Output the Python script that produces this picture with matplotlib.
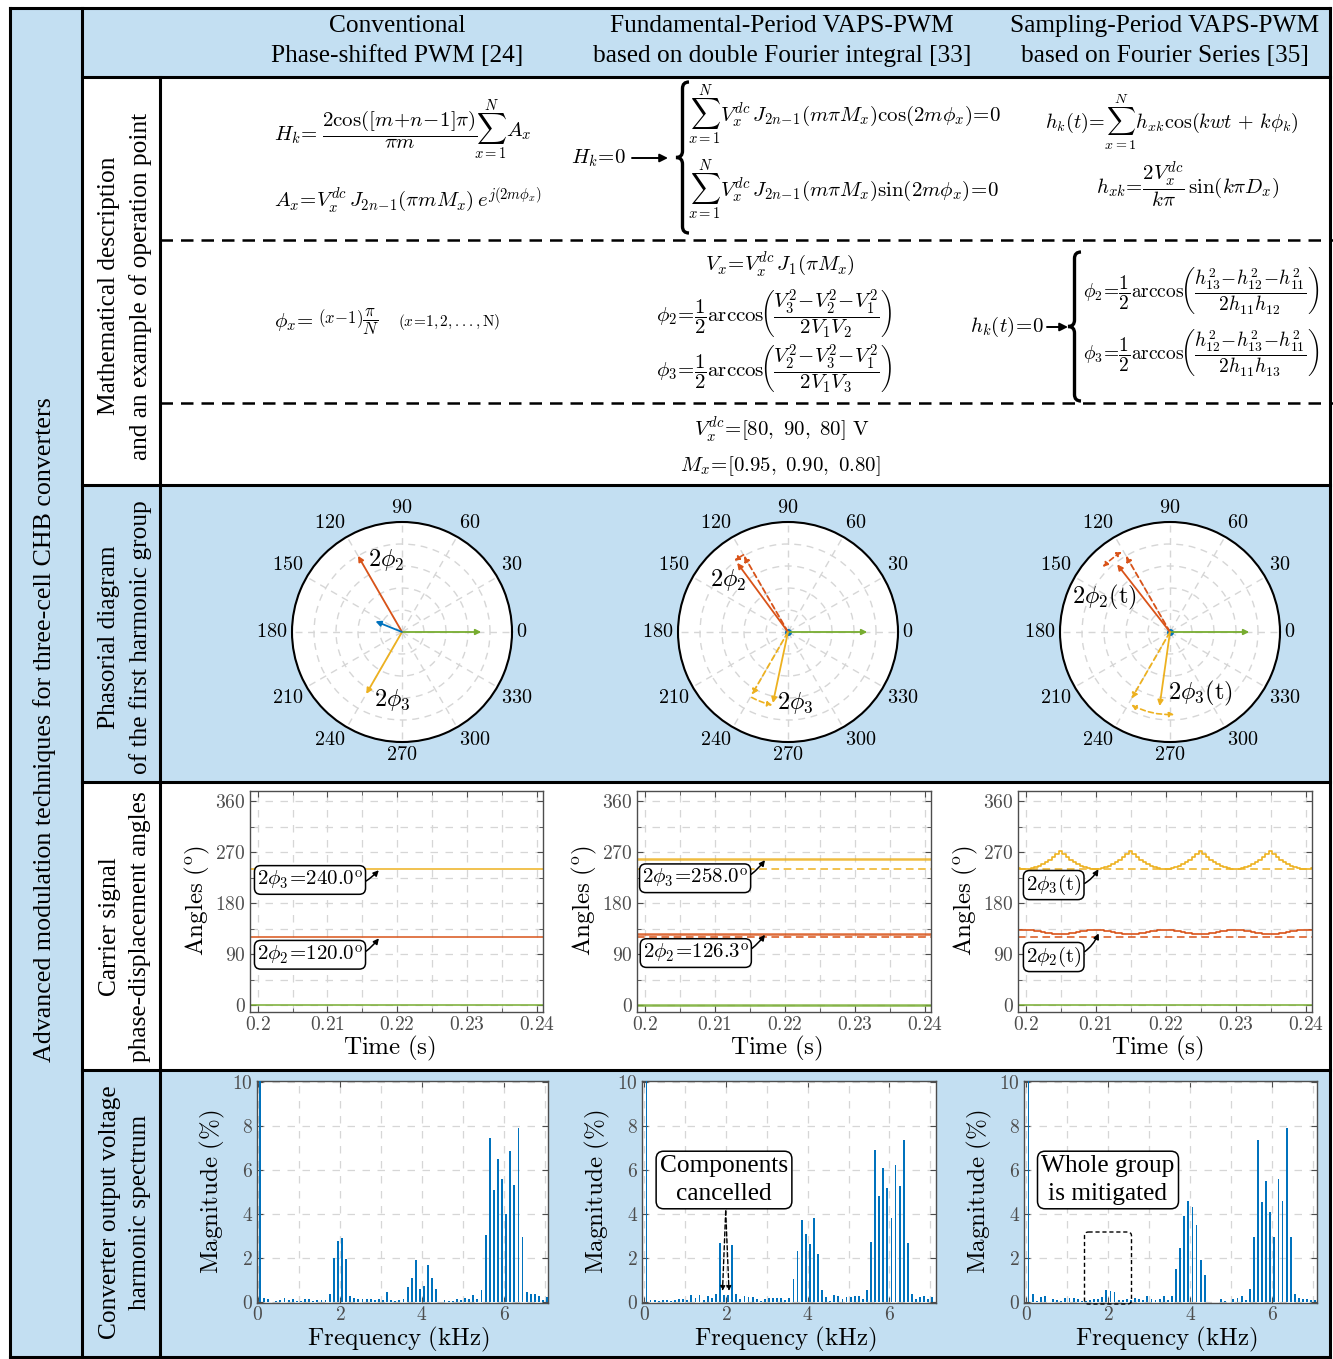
import numpy as np
import matplotlib
matplotlib.use('Agg')
import matplotlib.pyplot as plt
from matplotlib.patches import Rectangle, FancyBboxPatch, PathPatch
from matplotlib.path import Path

plt.rcParams['font.family'] = ['Liberation Serif', 'DejaVu Serif']
plt.rcParams['mathtext.fontset'] = 'cm'

W, H = 1333, 1359

# ---------------- data ----------------
MAIN_TITLE = "Advanced modulation techniques for three-cell CHB converters"
COLUMN_TITLES = ["Conventional\nPhase-shifted PWM [24]",
                 "Fundamental-Period VAPS-PWM\nbased on double Fourier integral [33]",
                 "Sampling-Period VAPS-PWM\nbased on Fourier Series [35]"]
ROW_LABELS = ["Mathematical description\nand an example of operation point",
              "Phasorial diagram\nof the first harmonic group",
              "Carrier signal\nphase-displacement angles",
              "Converter output voltage\nharmonic spectrum"]

VDC = [80, 90, 80]
MX = [0.95, 0.90, 0.80]

POLAR_TICKS = list(range(0, 360, 30))

# phasors (angle deg, magnitude)
PS_PHASOR_ANG = [0, 120, 240, 158]
PS_PHASOR_MAG = [0.72, 0.80, 0.65, 0.26]
FP_PHASOR_ANG = [0, 126.3, 258.0]
FP_PHASOR_MAG = [0.72, 0.78, 0.66]
SP_PHASOR_ANG = [0, 128, 262]
SP_PHASOR_MAG = [0.72, 0.78, 0.68]
REF_PHASOR_ANG = [120, 240]
FP_REF_MAG = [0.80, 0.66]
SP_REF_MAG = [0.80, 0.70]

# carrier angles
PS_ANGLES = [0, 120.0, 240.0]
FP_ANGLES = [0, 126.3, 258.0]
SP_TIME_START, SP_TIME_STEP = 0.199, 0.0005
SP_ORANGE = [241.5, 240.5,
             240, 240.5, 241.5, 243, 245.5, 248.5, 252, 256, 261, 266.5, 272.5, 266.5, 261, 256, 252, 248.5, 245.5, 243, 241.5, 240.5,
             240, 240.5, 241.5, 243, 245.5, 248.5, 252, 256, 261, 266.5, 272.5, 266.5, 261, 256, 252, 248.5, 245.5, 243, 241.5, 240.5,
             240, 240.5, 241.5, 243, 245.5, 248.5, 252, 256, 261, 266.5, 272.5, 266.5, 261, 256, 252, 248.5, 245.5, 243, 241.5, 240.5,
             240, 240.5, 241.5, 243, 245.5, 248.5, 252, 256, 261, 266.5, 272.5, 266.5, 261, 256, 252, 248.5, 245.5, 243, 241.5, 240.5,
             240, 240.5, 241.5]
SP_RED = [132.2, 132.8,
          133, 132.8, 132.2, 131.3, 130.2, 129, 127.8, 126.7, 125.8, 125.2, 125, 125.2, 125.8, 126.7, 127.8, 129, 130.2, 131.3, 132.2, 132.8,
          133, 132.8, 132.2, 131.3, 130.2, 129, 127.8, 126.7, 125.8, 125.2, 125, 125.2, 125.8, 126.7, 127.8, 129, 130.2, 131.3, 132.2, 132.8,
          133, 132.8, 132.2, 131.3, 130.2, 129, 127.8, 126.7, 125.8, 125.2, 125, 125.2, 125.8, 126.7, 127.8, 129, 130.2, 131.3, 132.2, 132.8,
          133, 132.8, 132.2, 131.3, 130.2, 129, 127.8, 126.7, 125.8, 125.2, 125, 125.2, 125.8, 126.7, 127.8, 129, 130.2, 131.3, 132.2, 132.8,
          133, 132.8, 132.2]
SP_REF = [120, 240]

TIME_TICKS = [0.2, 0.21, 0.22, 0.23, 0.24]
TIME_TICK_LABELS = ['0.2', '0.21', '0.22', '0.23', '0.24']
ANGLE_TICKS = [0, 90, 180, 270, 360]

# spectra (% of fundamental), odd harmonics of 50 Hz
SPEC_PS = [100, 0.2, 0.15, 0.02, 0.05, 0.1, 0.2, 0.1, 0.15, 0.05,
           0.05, 0.15, 0.15, 0.05, 0.12, 0.12, 0.1, 0.4, 2.0, 2.8,
           2.9, 1.97, 0.3, 0.2, 0.15, 0.15, 0.15, 0.15, 0.12, 0.15,
           0.1, 0.45, 0.1, 0.05, 0.12, 0.15, 0.7, 1.1, 1.9, 0.6,
           0.75, 1.7, 1.1, 0.6, 0.0, 0.12, 0.08, 0.05, 0.15, 0.12,
           0.2, 0.15, 0.35, 0.15, 0.55, 3.05, 7.45, 5.1, 6.5, 5.6,
           4.0, 6.85, 5.35, 7.9, 2.95, 0.45, 0.4, 0.4, 0.3, 0.1,
           0.25]
SPEC_FP = [100, 0.1, 0.1, 0.05, 0.12, 0.12, 0.05, 0.1, 0.15, 0.15,
           0.1, 0.35, 0.2, 0.32, 0.1, 0.28, 0.2, 0.38, 2.7, 0.35,
           0.32, 2.6, 0.4, 0.15, 0.3, 0.22, 0.22, 0.15, 0.08, 0.15,
           0.18, 0.2, 0.18, 0.18, 0.1, 0.18, 1.05, 2.35, 3.75, 3.1,
           2.65, 3.85, 2.2, 0.55, 0.25, 0.05, 0.35, 0.28, 0.15, 0.25,
           0.22, 0.28, 0.3, 0.15, 0.55, 2.75, 6.9, 4.85, 6.1, 5.2,
           3.85, 6.25, 5.3, 7.35, 2.7, 0.4, 0.15, 0.22, 0.3, 0.15,
           0.22]
SPEC_SP = [100, 0.4, 0.05, 0.25, 0.28, 0.02, 0.15, 0.12, 0.05, 0.2,
           0.18, 0.18, 0.15, 0.08, 0.05, 0.1, 0.15, 0.15, 0.25, 0.55,
           0.52, 0.48, 0.12, 0.12, 0.15, 0.1, 0.2, 0.15, 0.1, 0.28,
           0.15, 0.1, 0.15, 0.28, 0.12, 0.28, 1.5, 2.45, 3.9, 4.6,
           4.35, 3.5, 1.9, 1.25, 0.0, 0.0, 0.0, 0.15, 0.05, 0.0,
           0.15, 0.18, 0.28, 0.1, 0.6, 2.95, 7.35, 4.55, 5.5, 4.1,
           2.95, 5.6, 4.6, 7.9, 2.95, 0.4, 0.18, 0.15, 0.15, 0.12,
           0.12]
FREQ_KHZ = 0.05 + 0.1 * np.arange(len(SPEC_PS))
FREQ_TICKS = [0, 2, 4, 6]
MAG_TICKS = [0, 2, 4, 6, 8, 10]

# ---------------- style ----------------
LB = '#c3dff2'
C_BLUE, C_RED, C_ORANGE, C_GREEN = '#0072BD', '#D95319', '#EDB120', '#77AC30'
GRAY = '#4d4d4d'
GRID = '#d6d6d6'
DEG = r'^{\mathrm{o}}'

fig = plt.figure(figsize=(W / 100, H / 100), dpi=100)
bg = fig.add_axes([0, 0, 1, 1], zorder=-10)
bg.set_xlim(0, W); bg.set_ylim(H, 0); bg.axis('off')
ov = fig.add_axes([0, 0, 1, 1], zorder=10)
ov.set_xlim(0, W); ov.set_ylim(H, 0); ov.axis('off'); ov.patch.set_alpha(0)


def px_axes(x0, y0, x1, y1, **kw):
    return fig.add_axes([x0 / W, 1 - y1 / H, (x1 - x0) / W, (y1 - y0) / H], **kw)


def rect(x0, y0, x1, y1, color):
    bg.add_patch(Rectangle((x0, y0), x1 - x0, y1 - y0, facecolor=color, edgecolor='none', zorder=0))


rect(10, 8, 82, 1358, LB)
rect(82, 8, 1330, 77, LB)
rect(82, 485, 1330, 782, LB)
rect(82, 1070, 1330, 1358, LB)

LW = 2.2
def line(xs, ys, **kw):
    d = dict(color='k', lw=LW, solid_capstyle='projecting', zorder=5)
    d.update(kw)
    bg.plot(xs, ys, **d)

line([10, 10], [8, 1357]); line([1330, 1330], [8, 1357])
line([10, 1330], [8, 8]); line([10, 1330], [1357, 1357])
line([82, 82], [8, 1357]); line([160, 160], [77, 1357])
for y in [77, 485, 782, 1070]:
    line([82, 1330], [y, y])
for y in [240, 403]:
    bg.plot([160, 1333], [y, y], color='k', lw=1.8, ls=(0, (5, 3.2)), zorder=5)

# titles
bg.text(45, 730, MAIN_TITLE, rotation=90, ha='center', va='center', fontsize=18.7)
for cx, t in zip([397, 782, 1165], COLUMN_TITLES):
    bg.text(cx, 41, t, ha='center', va='center', fontsize=18.3, linespacing=1.5)
for cy, t in zip([286, 637, 927, 1212], ROW_LABELS):
    bg.text(125, cy, t, rotation=90, ha='center', va='center', fontsize=18.3, linespacing=1.45)

# ---------------- formulas ----------------
FS = 15
def ftxt(x, y, s, ha='left', fs=FS):
    bg.text(x, y, s, ha=ha, va='center', fontsize=fs)

def brace(x, y0, y1, w):
    ym = (y0 + y1) / 2
    d = w / 2
    verts = [(x + w, y0), (x + w / 2, y0), (x + w / 2, y0 + d),
             (x + w / 2, ym - d),
             (x + w / 2, ym), (x, ym),
             (x + w / 2, ym), (x + w / 2, ym + d),
             (x + w / 2, y1 - d),
             (x + w / 2, y1), (x + w, y1)]
    codes = [Path.MOVETO, Path.CURVE3, Path.CURVE3, Path.LINETO,
             Path.CURVE3, Path.CURVE3, Path.CURVE3, Path.CURVE3,
             Path.LINETO, Path.CURVE3, Path.CURVE3]
    bg.add_patch(PathPatch(Path(verts, codes), fc='none', ec='k', lw=2.4, zorder=6))

def harrow(x0, x1, y):
    bg.annotate('', xy=(x1, y), xytext=(x0, y),
                arrowprops=dict(arrowstyle='-|>', color='k', lw=1.4, mutation_scale=12,
                                shrinkA=0, shrinkB=0))

ARC = r'\mathrm{arccos}\!\left('
# col 1 row 1
ftxt(274, 135, r'$H_k\!=$')
ftxt(400, 130, r'$\dfrac{2\cos([m\!+\!n\!-\!1]\pi)}{\pi m}$', ha='center')
ftxt(474, 130, r'$\sum_{x=1}^{N}A_x$')
ftxt(274, 200, r'$A_x\!=\!V_x^{dc}\,J_{2n\!-\!1}(\pi m M_x)\,e^{j(2m\phi_x)}$')
# col 2 row 1
ftxt(626, 158, r'$H_k\!=\!0$', ha='right')
harrow(632, 668, 158)
brace(676, 82, 233, 13)
ftxt(688, 115, r'$\sum_{x=1}^{N}V_x^{dc}\,J_{2n\!-\!1}(m\pi M_x)\cos(2m\phi_x)\!=\!0$')
ftxt(688, 190, r'$\sum_{x=1}^{N}V_x^{dc}\,J_{2n\!-\!1}(m\pi M_x)\sin(2m\phi_x)\!=\!0$')
# col 3 row 1
ftxt(1045, 122, r'$h_k(t)\!=\!\sum_{x=1}^{N}h_{xk}\cos(kwt\,+\,k\phi_k)$', fs=14.5)
ftxt(1096, 185, r'$h_{xk}\!=\!\dfrac{2V_x^{dc}}{k\pi}\,\sin(k\pi D_x)$')
# row 2
ftxt(274, 322, r'$\phi_x\!=\!$')
ftxt(318, 322, r'$(x\!-\!1)\dfrac{\pi}{N}$', fs=12)
ftxt(398, 322, r'$(x\!=\!1,2,...,\mathrm{N})$', fs=11)
ftxt(780, 265, r'$V_x\!=\!V_x^{dc}\,J_1(\pi M_x)$', ha='center')
ftxt(774, 314, r'$\phi_2\!=\!\dfrac{1}{2}' + ARC + r'\dfrac{V_3^2\!-\!V_2^2\!-\!V_1^2}{2V_1V_2}\right)$', ha='center')
ftxt(774, 369, r'$\phi_3\!=\!\dfrac{1}{2}' + ARC + r'\dfrac{V_2^2\!-\!V_3^2\!-\!V_1^2}{2V_1V_3}\right)$', ha='center')
ftxt(1044, 327, r'$h_k(t)\!=\!0$', ha='right')
harrow(1047, 1068, 327)
brace(1068, 252, 401, 13)
ftxt(1083, 290, r'$\phi_2\!=\!\dfrac{1}{2}' + ARC + r'\dfrac{h_{13}^2\!-\!h_{12}^2\!-\!h_{11}^2}{2h_{11}h_{12}}\right)$', fs=14)
ftxt(1083, 352, r'$\phi_3\!=\!\dfrac{1}{2}' + ARC + r'\dfrac{h_{12}^2\!-\!h_{13}^2\!-\!h_{11}^2}{2h_{11}h_{13}}\right)$', fs=14)
# row 3
ftxt(782, 430, r'$V_x^{dc}\!=\![' + r',\ '.join(str(v) for v in VDC) + r']\ \mathrm{V}$', ha='center')
ftxt(780, 466, r'$M_x\!=\![' + r',\ '.join(f'{v:.2f}' for v in MX) + r']$', ha='center')

# ---------------- polar ----------------
def polar_ax(cx):
    ax = px_axes(cx - 110, 522, cx + 110, 742, projection='polar')
    ax.set_ylim(0, 1)
    ax.set_yticks([0.2, 0.4, 0.6, 0.8]); ax.set_yticklabels([])
    ax.set_thetagrids(POLAR_TICKS, labels=[''] * len(POLAR_TICKS))
    ax.grid(True, ls=(0, (5, 4)), color=GRID, lw=1.0)
    ax.spines['polar'].set_linewidth(1.5)
    for a in POLAR_TICKS:
        c, s = np.cos(np.deg2rad(a)), np.sin(np.deg2rad(a))
        ha = 'left' if c > 0.1 else ('right' if c < -0.1 else 'center')
        va = 'bottom' if s > 0.1 else ('top' if s < -0.1 else 'center')
        ax.annotate(f'${a}$', xy=(np.deg2rad(a), 1.0), xytext=(3 * c, 3 * s), textcoords='offset points',
                    ha=ha, va=va, fontsize=14.5, annotation_clip=False)
    return ax

def vec(ax, ang, mag, color, ls='-'):
    ax.annotate('', xy=(np.deg2rad(ang), mag), xytext=(0, 0),
                arrowprops=dict(arrowstyle='-|>', color=color, lw=1.3, ls=ls, mutation_scale=8,
                                shrinkA=0, shrinkB=0))

def arc(ax, a0, a1, r, color, style='-|>'):
    rad = np.deg2rad(a1 - a0) / 4
    ax.annotate('', xy=(np.deg2rad(a1), r), xytext=(np.deg2rad(a0), r),
                arrowprops=dict(arrowstyle=style, color=color, lw=1.2, ls=(0, (3, 2)), mutation_scale=7,
                                shrinkA=0, shrinkB=0, connectionstyle=f'arc3,rad={rad:.3f}'))

pcols = [C_GREEN, C_RED, C_ORANGE, C_BLUE]
ax1 = polar_ax(402)
for a, m, c in zip(PS_PHASOR_ANG, PS_PHASOR_MAG, pcols):
    vec(ax1, a, m, c)
ax2 = polar_ax(788)
for a, m, c in zip(REF_PHASOR_ANG, FP_REF_MAG, pcols[1:3]):
    vec(ax2, a, m, c, ls=(0, (3, 2)))
for a, m, c in zip(FP_PHASOR_ANG, FP_PHASOR_MAG, pcols):
    vec(ax2, a, m, c)
arc(ax2, 120, 127, 0.81, C_RED)
arc(ax2, 241, 258, 0.68, C_ORANGE)
ax2.plot(0, 0, 'o', color=C_BLUE, ms=4)
ax3 = polar_ax(1170)
for a, m, c in zip(REF_PHASOR_ANG, SP_REF_MAG, pcols[1:3]):
    vec(ax3, a, m, c, ls=(0, (3, 2)))
for a, m, c in zip(SP_PHASOR_ANG, SP_PHASOR_MAG, pcols):
    vec(ax3, a, m, c)
arc(ax3, 121, 136, 0.85, C_RED, '<|-|>')
arc(ax3, 242, 273, 0.75, C_ORANGE, '<|-|>')
ax3.plot(0, 0, 'o', color=C_BLUE, ms=4)

for x, y, s in [(386, 560, r'$2\phi_2$'), (392, 700, r'$2\phi_3$'),
                (728, 580, r'$2\phi_2$'), (795, 703, r'$2\phi_3$'),
                (1104, 597, r'$2\phi_2(\mathrm{t})$'), (1200, 693, r'$2\phi_3(\mathrm{t})$')]:
    ov.text(x, y, s, ha='center', va='center', fontsize=17.5)

# ---------------- carrier angles ----------------
def style_box(ax):
    for s in ax.spines.values():
        s.set_color(GRAY); s.set_linewidth(1.0)
    ax.tick_params(which='both', direction='in', color=GRAY, labelcolor=GRAY, labelsize=14,
                   top=True, right=True, length=4, pad=3)
    ax.tick_params(which='minor', length=3)

def angle_ax(x0, x1):
    ax = px_axes(x0, 791, x1, 1012)
    ax.set_xlim(0.1989, 0.2409); ax.set_ylim(-12, 378)
    ax.set_xticks(TIME_TICKS, labels=[f'${s}$' for s in TIME_TICK_LABELS])
    ax.set_xticks([0.205, 0.215, 0.225, 0.235], minor=True)
    ax.set_yticks(ANGLE_TICKS, labels=[f'${v}$' for v in ANGLE_TICKS])
    ax.set_yticks([45, 135, 225, 315], minor=True)
    ax.grid(which='both', ls=(0, (6, 6)), color=GRID, lw=0.9)
    style_box(ax)
    ax.set_axisbelow(True)
    cx = (x0 + x1) / 2
    bg.text(cx - 7, 1048, r'$\mathrm{Time\ (s)}$', ha='center', va='center', fontsize=18)
    bg.text(x0 - 53, 901, r'$\mathrm{Angles\ (' + DEG + r')}$', rotation=90, ha='center', va='center', fontsize=18)
    return ax

BOXP = dict(boxstyle='round,pad=0.12,rounding_size=0.3', fc='white', ec='k', lw=1.1)
def note(ax, s, xy, xyt):
    ax.annotate(s, xy=xy, xytext=xyt, ha='center', va='center', fontsize=15, bbox=BOXP, zorder=10,
                arrowprops=dict(arrowstyle='-|>', color='k', lw=1.1, mutation_scale=8, shrinkA=0, shrinkB=1,
                                connectionstyle='arc3,rad=0.4'))

a1 = angle_ax(250, 543)
for v, c in zip(PS_ANGLES, [C_GREEN, C_RED, C_ORANGE]):
    a1.axhline(v, color=c, lw=1.1)
note(a1, rf'$2\phi_3\!=\!{PS_ANGLES[2]:.1f}{DEG}$', (0.2175, PS_ANGLES[2]), (0.2075, 221))
note(a1, rf'$2\phi_2\!=\!{PS_ANGLES[1]:.1f}{DEG}$', (0.2175, PS_ANGLES[1]), (0.2075, 89))

a2 = angle_ax(637, 931)
for v, c in zip(SP_REF, [C_RED, C_ORANGE]):
    a2.axhline(v, color=c, lw=1.1, ls=(0, (5, 3)))
for v, c in zip(FP_ANGLES, [C_GREEN, C_RED, C_ORANGE]):
    a2.axhline(v, color=c, lw=1.8, alpha=0.85)
note(a2, rf'$2\phi_3\!=\!{FP_ANGLES[2]:.1f}{DEG}$', (0.2173, FP_ANGLES[2]), (0.2072, 224))
note(a2, rf'$2\phi_2\!=\!{FP_ANGLES[1]:.1f}{DEG}$', (0.2173, FP_ANGLES[1]), (0.2073, 92))

a3 = angle_ax(1018, 1312)
t_sp = SP_TIME_START + SP_TIME_STEP * np.arange(len(SP_ORANGE))
for v, c in zip(SP_REF, [C_RED, C_ORANGE]):
    a3.axhline(v, color=c, lw=1.1, ls=(0, (5, 3)))
a3.axhline(0, color=C_GREEN, lw=1.1)
a3.plot(t_sp, SP_RED, color=C_RED, lw=1.2, drawstyle='steps-mid')
a3.plot(t_sp, SP_ORANGE, color=C_ORANGE, lw=1.2, drawstyle='steps-mid')
note(a3, r'$2\phi_3(\mathrm{t})$', (0.2105, 242), (0.2040, 212))
note(a3, r'$2\phi_2(\mathrm{t})$', (0.2105, 129), (0.2040, 85))

# ---------------- spectra ----------------
def spec_ax(x0, x1, xl, xr, vals):
    ax = px_axes(x0, 1081, x1, 1303)
    ax.bar(FREQ_KHZ, vals, width=0.045, color=C_BLUE, zorder=3)
    ax.set_xlim(xl, xr); ax.set_ylim(-0.03, 10.05)
    ax.set_xticks(FREQ_TICKS, labels=[f'${v}$' for v in FREQ_TICKS])
    ax.set_xticks([1, 3, 5, 7], minor=True)
    ax.set_yticks(MAG_TICKS, labels=[f'${v}$' for v in MAG_TICKS])
    ax.grid(which='both', ls=(0, (6, 6)), color=GRID, lw=0.9)
    ax.grid(which='minor', axis='y', visible=False)
    style_box(ax)
    ax.tick_params(which='minor', top=False, bottom=False)
    ax.tick_params(axis='x', pad=2)
    ax.set_axisbelow(True)
    cx = (x0 + x1) / 2
    bg.text(cx - 4, 1339, r'$\mathrm{Frequency\ (kHz)}$', ha='center', va='center', fontsize=18)
    bg.text(x0 - 45, 1192, r'$\mathrm{Magnitude\ (\%)}$', rotation=90, ha='center', va='center', fontsize=18)
    return ax

s1 = spec_ax(257, 548, -0.02, 7.07, SPEC_PS)
s2 = spec_ax(642, 936, -0.06, 7.14, SPEC_FP)
s3 = spec_ax(1024, 1317, -0.06, 7.09, SPEC_SP)

ov.text(724, 1180, 'Components\ncancelled', ha='center', va='center', fontsize=18.3, linespacing=1.35,
        bbox=dict(boxstyle='round,pad=0.15,rounding_size=0.3', fc='white', ec='k', lw=1.1))
for xe in [722.5, 729]:
    ov.annotate('', xy=(xe, 1291), xytext=(725.7, 1211),
                arrowprops=dict(arrowstyle='-|>', color='k', lw=1.0, ls=(0, (3, 2)), mutation_scale=7,
                                shrinkA=0, shrinkB=0))
ov.text(1108, 1180, 'Whole group\nis mitigated', ha='center', va='center', fontsize=18.3, linespacing=1.35,
        bbox=dict(boxstyle='round,pad=0.15,rounding_size=0.3', fc='white', ec='k', lw=1.1))
ov.add_patch(FancyBboxPatch((1084.5, 1232), 47, 72, boxstyle='round,pad=0,rounding_size=4',
                            fc='none', ec='k', lw=1.0, ls=(0, (3, 2))))

fig.savefig('out.png', dpi=100)
